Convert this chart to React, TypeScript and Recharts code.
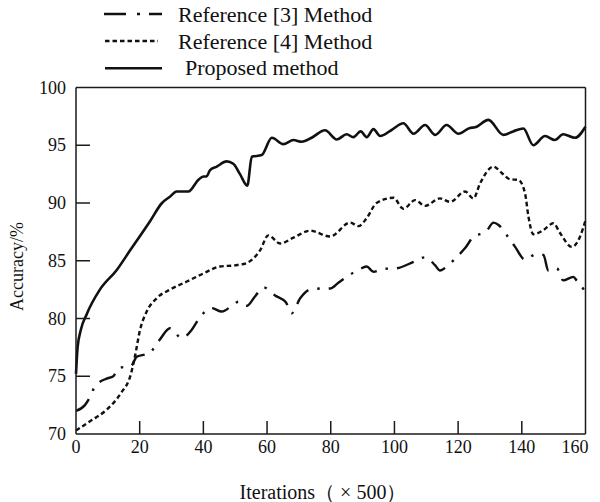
import React from 'react';
import { LineChart, Line, XAxis, YAxis } from 'recharts';

// ---------- data ----------
const xTicks = [0, 20, 40, 60, 80, 100, 120, 140, 160];
const yTicks = [70, 75, 80, 85, 90, 95, 100];
const seriesNames = ['Reference [3] Method', 'Reference [4] Method', ' Proposed method'];
const xAxisTitle = 'Iterations（ × 500）';
const yAxisTitle = 'Accuracy/%';

const ref3X = [0, 2.8, 4.4, 5.9, 9.6, 11.7, 13.3, 17.3, 19.1, 21.1, 23.2, 24.1, 26.4, 29.5, 33.2, 36.3, 38.4, 42.6, 45.8, 49.4, 51.0, 53.6, 56.2, 58.8, 62.5, 65.9, 67.7, 70.4, 73.5, 77.7, 79.8, 82.4, 85.5, 89.7, 91.3, 93.4, 96.8, 100.7, 106, 109.6, 112.8, 114.3, 116.4, 119.5, 122.2, 125.3, 126.9, 129, 131.1, 132.7, 135.3, 137.9, 141, 144.4, 146.8, 148.3, 151, 153, 156.2, 157.2, 160];
const ref3Y = [72.0, 72.5, 73.2, 74.1, 74.8, 75.0, 75.7, 75.9, 76.7, 76.85, 77.0, 77.3, 78.2, 79.15, 78.3, 79.0, 79.9, 80.9, 80.6, 81.2, 81.45, 81.1, 81.9, 82.7, 82.0, 81.4, 80.45, 81.75, 82.5, 82.6, 82.6, 83.1, 83.7, 84.35, 84.5, 84.05, 84.3, 84.35, 84.9, 85.3, 84.6, 84.15, 84.5, 85.3, 86.1, 87.2, 87.3, 87.6, 88.3, 88.1, 87.2, 86.2, 85.1, 85.55, 85.5, 84.15, 84.35, 83.3, 83.6, 83.3, 82.3];

const ref4X = [0, 4.4, 9.6, 14, 17.3, 18.5, 20.1, 22.2, 25.3, 29.5, 34.8, 40, 45.2, 49.9, 53.6, 55.7, 57.8, 60.4, 64.1, 68.3, 73.5, 79.8, 86.1, 88.7, 91.3, 94.4, 99.7, 102.8, 106.5, 109.6, 114.3, 117.5, 122.2, 124.8, 126.9, 131.1, 133.7, 136.3, 138.9, 141, 142.1, 143.6, 146.8, 149.9, 152, 155.7, 158.3, 160];
const ref4Y = [70.3, 71.1, 72.1, 73.5, 75.25, 76.7, 79.0, 80.6, 81.75, 82.5, 83.2, 83.9, 84.5, 84.6, 84.8, 85.2, 85.9, 87.2, 86.5, 87.0, 87.6, 87.1, 88.3, 88.0, 88.7, 90.0, 90.45, 89.5, 90.25, 89.75, 90.4, 90.1, 91.0, 90.4, 91.7, 93.15, 92.6, 92.05, 92.0, 90.85, 88.8, 87.3, 87.65, 88.25, 87.4, 86.2, 87.1, 88.5];

const propX = [0, 0.5, 1.5, 3.4, 7.5, 12.8, 17, 23.2, 27, 29.5, 31.6, 35.3, 38.4, 40, 41, 42.1, 44.2, 47.3, 49.4, 51.5, 53.8, 55.2, 58.3, 61.5, 65.1, 68.3, 70.9, 74, 78.2, 81.9, 85, 87.1, 89.4, 91.3, 93.4, 95.5, 99, 102.8, 106, 109.6, 112.8, 116.4, 120.1, 123.7, 125.3, 129.5, 134.2, 137.3, 140.5, 143.6, 147.3, 150.4, 153, 156.7, 160];
const propY = [75.2, 77.5, 79.0, 80.4, 82.5, 84.2, 85.9, 88.4, 90.0, 90.55, 91.0, 91.0, 92.0, 92.3, 92.3, 92.85, 93.15, 93.6, 93.4, 92.5, 91.5, 94.0, 94.15, 95.65, 95.1, 95.45, 95.3, 95.65, 96.3, 95.5, 95.95, 95.7, 96.2, 95.7, 96.4, 95.8, 96.3, 96.9, 96.0, 96.75, 95.9, 96.75, 96.0, 96.5, 96.55, 97.2, 95.9, 96.2, 96.45, 95.0, 95.8, 95.45, 95.95, 95.65, 96.6];

const toPoints = (xs: number[], ys: number[]) => xs.map((x, i) => ({ x, y: ys[i] }));
const ref3Data = toPoints(ref3X, ref3Y);
const ref4Data = toPoints(ref4X, ref4Y);
const propData = toPoints(propX, propY);

// ---------- styles ----------
const FONT = '"Liberation Serif", "Times New Roman", serif';
const AXIS = '#1a1a1a';
const INK = '#111';
const DASHDOT = '18 9 2.5 9';
const DOTTED = '4.5 3';

const YTick = (props: any) => {
  const { x, y, payload } = props;
  const v = payload.value;
  return (
    <g>
      {v !== 70 && v !== 100 && (
        <line x1={x} x2={x + 14} y1={y} y2={y} stroke={AXIS} strokeWidth={1.5} />
      )}
      <text x={x - 10} y={y} dy="0.34em" textAnchor="end" fontSize={18} fontFamily={FONT} fill={INK}>
        {v}
      </text>
    </g>
  );
};

const XTick = (props: any) => {
  const { x, y, payload } = props;
  const v = payload.value;
  const last = v === 160;
  return (
    <g>
      {v !== 0 && !last && (
        <line x1={x} x2={x} y1={y} y2={y - 13} stroke={AXIS} strokeWidth={1.5} />
      )}
      <text
        x={last ? x + 3 : x}
        y={y + 19}
        textAnchor={last ? 'end' : 'middle'}
        fontSize={18}
        fontFamily={FONT}
        fill={INK}
      >
        {v}
      </text>
    </g>
  );
};

export default function App() {
  return (
    <div style={{ position: 'absolute', left: 0, top: 0, background: '#fff' }}>
      <LineChart width={600} height={502} margin={{ top: 86.5, right: 13.5, bottom: 67, left: 75 }}>
        <XAxis
          dataKey="x"
          type="number"
          domain={[0, 160]}
          ticks={xTicks}
          interval={0}
          height={1}
          tickSize={0}
          tickMargin={0}
          tickLine={false}
          axisLine={{ stroke: AXIS, strokeWidth: 1.5 }}
          tick={<XTick />}
        />
        <XAxis
          xAxisId="top"
          orientation="top"
          type="number"
          domain={[0, 160]}
          height={1}
          tick={false}
          tickLine={false}
          axisLine={{ stroke: AXIS, strokeWidth: 1.5 }}
        />
        <YAxis
          type="number"
          domain={[70, 100]}
          ticks={yTicks}
          interval={0}
          width={1}
          tickSize={0}
          tickMargin={0}
          tickLine={false}
          axisLine={{ stroke: AXIS, strokeWidth: 1.5 }}
          tick={<YTick />}
        />
        <YAxis
          yAxisId="right"
          orientation="right"
          type="number"
          domain={[70, 100]}
          width={1}
          tick={false}
          tickLine={false}
          axisLine={{ stroke: AXIS, strokeWidth: 1.5 }}
        />
        <Line
          data={ref3Data}
          dataKey="y"
          name={seriesNames[0]}
          type="monotone"
          stroke={INK}
          strokeWidth={2.4}
          strokeDasharray={DASHDOT}
          dot={false}
          activeDot={false}
          isAnimationActive={false}
        />
        <Line
          data={ref4Data}
          dataKey="y"
          name={seriesNames[1]}
          type="monotone"
          stroke={INK}
          strokeWidth={2.4}
          strokeDasharray={DOTTED}
          dot={false}
          activeDot={false}
          isAnimationActive={false}
        />
        <Line
          data={propData}
          dataKey="y"
          name={seriesNames[2]}
          type="monotone"
          stroke={INK}
          strokeWidth={2.6}
          dot={false}
          activeDot={false}
          isAnimationActive={false}
        />
        {/* legend */}
        <g>
          <line x1={104} x2={162} y1={14} y2={14} stroke={INK} strokeWidth={2.6} strokeDasharray="22 11 3 9" />
          <text x={178} y={21.7} fontSize={22} fontFamily={FONT} fill={INK}>{seriesNames[0]}</text>
          <line x1={105} x2={158} y1={41} y2={41} stroke={INK} strokeWidth={2.4} strokeDasharray="4.5 3" />
          <text x={178} y={49.3} fontSize={22} fontFamily={FONT} fill={INK}>{seriesNames[1]}</text>
          <line x1={105} x2={162} y1={68.3} y2={68.3} stroke={INK} strokeWidth={2.6} />
          <text x={185} y={75} fontSize={22} fontFamily={FONT} fill={INK}>{seriesNames[2].trim()}</text>
        </g>
        {/* axis titles */}
        <text x={323} y={499} textAnchor="middle" fontSize={20} fontFamily={FONT} fill={INK}>{xAxisTitle}</text>
        <text x={23} y={266.5} textAnchor="middle" fontSize={18} fontFamily={FONT} fill={INK} transform="rotate(-90, 23, 266.5)">
          {yAxisTitle}
        </text>
      </LineChart>
    </div>
  );
}
